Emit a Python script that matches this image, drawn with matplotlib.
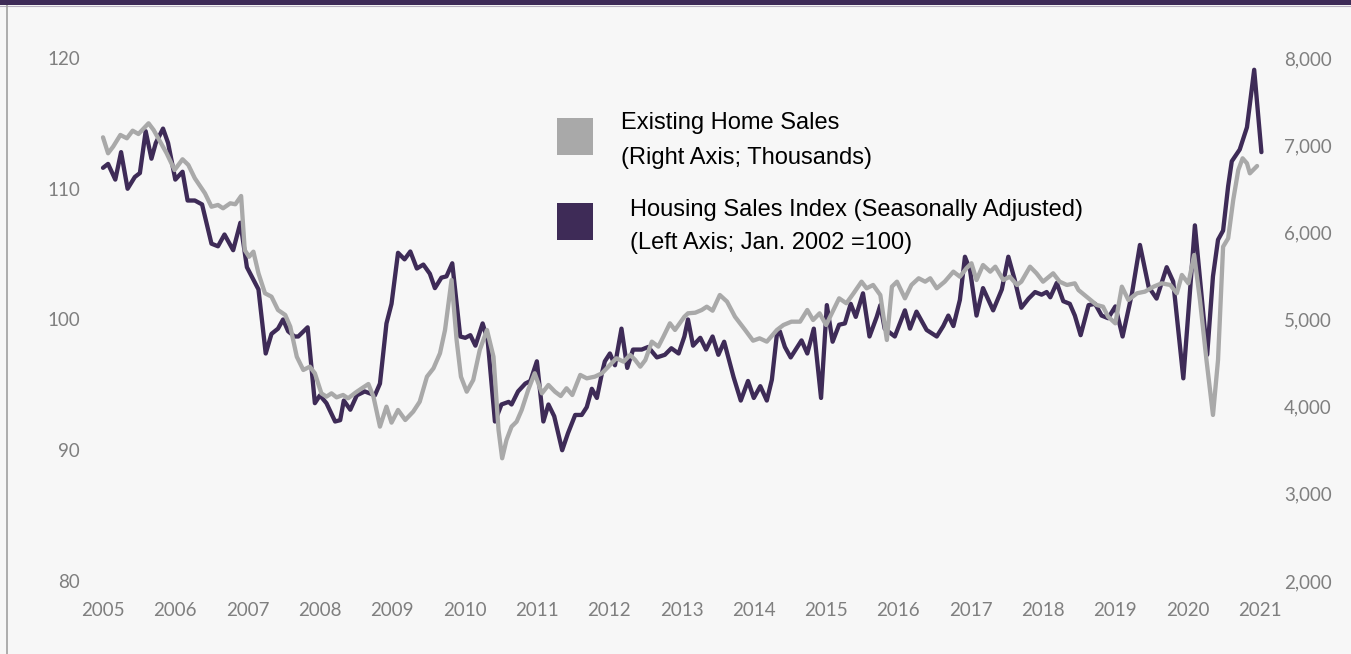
import matplotlib
matplotlib.use('Agg')
import matplotlib.pyplot as plt
import matplotlib.patches as patches
from matplotlib.lines import Line2D
from matplotlib.ticker import FuncFormatter

## Housing Sales Index (left axis, Jan. 2002 = 100)
hsi_year = [2005.00, 2005.07, 2005.17, 2005.25, 2005.34, 2005.44, 2005.51, 2005.59, 2005.67, 2005.73,
            2005.83, 2005.90, 2006.00, 2006.10, 2006.17, 2006.27, 2006.37, 2006.50, 2006.59, 2006.68,
            2006.80, 2006.90, 2006.99, 2007.15, 2007.25, 2007.33, 2007.42, 2007.49, 2007.56, 2007.65,
            2007.70, 2007.83, 2007.93, 2008.00, 2008.09, 2008.21, 2008.28, 2008.33, 2008.42, 2008.51,
            2008.62, 2008.76, 2008.83, 2008.92, 2008.99, 2009.08, 2009.17, 2009.25, 2009.34, 2009.43,
            2009.52, 2009.59, 2009.68, 2009.75, 2009.83, 2009.94, 2010.01, 2010.08, 2010.15, 2010.25,
            2010.32, 2010.42, 2010.51, 2010.61, 2010.65, 2010.74, 2010.84, 2010.91, 2011.00, 2011.09,
            2011.16, 2011.24, 2011.35, 2011.43, 2011.53, 2011.62, 2011.69, 2011.76, 2011.83, 2011.90,
            2011.94, 2012.01, 2012.08, 2012.17, 2012.25, 2012.33, 2012.45, 2012.54, 2012.66, 2012.77,
            2012.86, 2012.96, 2013.04, 2013.09, 2013.16, 2013.26, 2013.34, 2013.43, 2013.51, 2013.59,
            2013.72, 2013.82, 2013.92, 2014.00, 2014.09, 2014.18, 2014.25, 2014.32, 2014.36, 2014.43,
            2014.51, 2014.59, 2014.66, 2014.74, 2014.83, 2014.93, 2015.01, 2015.09, 2015.18, 2015.26,
            2015.34, 2015.41, 2015.51, 2015.60, 2015.70, 2015.75, 2015.81, 2015.95, 2016.09, 2016.16,
            2016.25, 2016.39, 2016.53, 2016.62, 2016.69, 2016.76, 2016.85, 2016.92, 2016.99, 2017.08,
            2017.17, 2017.31, 2017.43, 2017.52, 2017.61, 2017.70, 2017.80, 2017.89, 2017.98, 2018.05,
            2018.10, 2018.19, 2018.28, 2018.37, 2018.44, 2018.52, 2018.63, 2018.72, 2018.81, 2018.90,
            2019.00, 2019.10, 2019.23, 2019.34, 2019.46, 2019.57, 2019.71, 2019.80, 2019.94, 2020.03,
            2020.10, 2020.19, 2020.27, 2020.35, 2020.42, 2020.49, 2020.56, 2020.61, 2020.72, 2020.82,
            2020.92, 2021.02]
hsi = [111.6, 111.9, 110.7, 112.8, 110.0, 110.9, 111.2, 114.4, 112.3, 113.5,
       114.6, 113.5, 110.7, 111.3, 109.1, 109.1, 108.8, 105.8, 105.6, 106.5,
       105.3, 107.4, 104.0, 102.3, 97.4, 98.9, 99.3, 100.0, 99.1, 98.7,
       98.7, 99.4, 93.6, 94.2, 93.6, 92.2, 92.3, 93.8, 93.1, 94.2,
       94.5, 94.2, 95.1, 99.7, 101.2, 105.1, 104.6, 105.2, 103.9, 104.2,
       103.5, 102.4, 103.2, 103.3, 104.3, 98.7, 98.6, 98.8, 98.0, 99.7,
       98.4, 92.2, 93.5, 93.7, 93.5, 94.5, 95.1, 95.3, 96.8, 92.2,
       93.5, 92.6, 90.0, 91.3, 92.7, 92.7, 93.3, 94.7, 94.0, 95.9,
       96.8, 97.4, 96.5, 99.3, 96.3, 97.7, 97.7, 97.9, 97.1, 97.3,
       97.8, 97.4, 98.7, 100.0, 98.0, 98.6, 97.7, 98.7, 97.3, 98.3,
       95.6, 93.8, 95.3, 94.0, 94.9, 93.8, 95.4, 98.9, 99.1, 97.9,
       97.1, 97.8, 98.4, 97.4, 99.3, 94.0, 101.1, 98.3, 99.6, 99.7,
       101.2, 100.2, 102.0, 98.7, 100.2, 101.1, 99.3, 98.7, 100.7, 99.3,
       100.6, 99.2, 98.7, 99.5, 100.3, 99.5, 101.5, 104.8, 103.8, 100.3,
       102.4, 100.7, 102.3, 104.8, 103.0, 100.9, 101.6, 102.1, 101.9, 102.1,
       101.7, 102.8, 101.4, 101.2, 100.3, 98.8, 101.1, 101.2, 100.3, 100.1,
       101.0, 98.7, 102.0, 105.7, 102.5, 101.6, 104.0, 102.9, 95.5, 102.0,
       107.2, 102.0, 97.3, 103.3, 106.1, 106.8, 110.2, 112.1, 113.0, 114.7,
       119.1, 112.8]

## Existing Home Sales (right axis, thousands)
ehs_year = [2005.00, 2005.07, 2005.14, 2005.24, 2005.33, 2005.41, 2005.49, 2005.63, 2005.70, 2005.79,
            2005.88, 2005.99, 2006.10, 2006.18, 2006.27, 2006.41, 2006.50, 2006.59, 2006.66, 2006.76,
            2006.83, 2006.91, 2006.96, 2007.02, 2007.08, 2007.15, 2007.24, 2007.33, 2007.42, 2007.52,
            2007.59, 2007.68, 2007.77, 2007.86, 2007.93, 2008.02, 2008.09, 2008.16, 2008.23, 2008.32,
            2008.39, 2008.49, 2008.58, 2008.67, 2008.74, 2008.83, 2008.92, 2008.99, 2009.08, 2009.18,
            2009.29, 2009.38, 2009.48, 2009.57, 2009.66, 2009.73, 2009.82, 2009.89, 2009.95, 2010.03,
            2010.12, 2010.21, 2010.31, 2010.40, 2010.47, 2010.52, 2010.58, 2010.65, 2010.72, 2010.79,
            2010.88, 2010.97, 2011.07, 2011.16, 2011.25, 2011.33, 2011.41, 2011.49, 2011.60, 2011.69,
            2011.80, 2011.90, 2012.01, 2012.10, 2012.20, 2012.29, 2012.36, 2012.43, 2012.50, 2012.59,
            2012.68, 2012.75, 2012.84, 2012.91, 2013.04, 2013.09, 2013.19, 2013.28, 2013.35, 2013.43,
            2013.53, 2013.63, 2013.74, 2013.88, 2013.99, 2014.08, 2014.18, 2014.32, 2014.41, 2014.52,
            2014.64, 2014.74, 2014.82, 2014.91, 2015.00, 2015.09, 2015.18, 2015.28, 2015.38, 2015.49,
            2015.56, 2015.65, 2015.75, 2015.84, 2015.91, 2015.98, 2016.09, 2016.18, 2016.28, 2016.37,
            2016.44, 2016.53, 2016.64, 2016.76, 2016.85, 2016.94, 2017.01, 2017.08, 2017.17, 2017.27,
            2017.34, 2017.45, 2017.54, 2017.64, 2017.70, 2017.82, 2017.91, 2018.00, 2018.14, 2018.23,
            2018.33, 2018.44, 2018.49, 2018.63, 2018.74, 2018.83, 2018.90, 2019.00, 2019.09, 2019.18,
            2019.30, 2019.41, 2019.53, 2019.64, 2019.76, 2019.85, 2019.92, 2020.01, 2020.09, 2020.17,
            2020.26, 2020.35, 2020.42, 2020.49, 2020.56, 2020.63, 2020.70, 2020.76, 2020.82, 2020.86,
            2020.96]
ehs = [7090, 6907, 6983, 7117, 7079, 7166, 7128, 7251, 7174, 7040,
       6907, 6715, 6838, 6773, 6620, 6448, 6294, 6314, 6276, 6333,
       6322, 6417, 5797, 5720, 5778, 5530, 5301, 5262, 5109, 5052,
       4918, 4573, 4421, 4459, 4383, 4153, 4115, 4153, 4107, 4134,
       4096, 4160, 4211, 4260, 4115, 3771, 4000, 3817, 3962, 3847,
       3943, 4057, 4344, 4440, 4612, 4880, 5453, 4765, 4344, 4172,
       4306, 4650, 4880, 4573, 3732, 3408, 3618, 3771, 3828, 3962,
       4192, 4383, 4153, 4249, 4172, 4122, 4211, 4134, 4364, 4325,
       4344, 4383, 4478, 4555, 4516, 4593, 4535, 4459, 4535, 4746,
       4689, 4803, 4956, 4880, 5032, 5071, 5078, 5109, 5147, 5101,
       5281, 5205, 5032, 4880, 4757, 4784, 4746, 4880, 4937, 4975,
       4975, 5109, 4994, 5071, 4937, 5090, 5243, 5186, 5301, 5434,
       5358, 5396, 5280, 4765, 5377, 5434, 5243, 5396, 5473, 5434,
       5473, 5358, 5434, 5549, 5491, 5587, 5645, 5453, 5625, 5549,
       5606, 5453, 5491, 5396, 5434, 5606, 5530, 5434, 5530, 5434,
       5396, 5415, 5338, 5243, 5167, 5147, 5032, 4956, 5377, 5224,
       5301, 5320, 5377, 5415, 5396, 5301, 5511, 5415, 5740, 5224,
       4536, 3905, 4536, 5835, 5931, 6371, 6715, 6849, 6792, 6677,
       6761]

years = list(range(2005, 2022))
left_ticks = [80, 90, 100, 110, 120]
right_ticks = [2000, 3000, 4000, 5000, 6000, 7000, 8000]

purple = '#3e2b57'
grey = '#a9a9a9'
tick_col = '#7f7f7f'
bg = '#f7f7f7'

W, H = 1351, 654
fig = plt.figure(figsize=(W / 100, H / 100), dpi=100, facecolor=bg)

# frame decorations: purple bar on top, grey rule on the left
fig.patches.append(patches.Rectangle((0, 1 - 5 / H), 1, 5 / H, transform=fig.transFigure,
                                     facecolor=purple, edgecolor='none', zorder=5))
fig.lines.append(Line2D([0, 1], [1 - 5.5 / H, 1 - 5.5 / H], transform=fig.transFigure,
                        color='#b8b0c0', lw=0.8))
fig.lines.append(Line2D([6.5 / W, 6.5 / W], [0, 1 - 5 / H], transform=fig.transFigure,
                        color='#a0a0a0', lw=1.2))

ax = fig.add_axes([85 / W, 73 / H, 1195 / W, 523 / H])
ax.set_facecolor('none')
ax.plot(hsi_year, hsi, color=purple, lw=3.1, solid_joinstyle='round', solid_capstyle='round')
ax.set_ylim(80, 120)
ax.set_xlim(2004.751, 2021.277)
ax.set_yticks(left_ticks)
ax.set_xticks(years)
ax.set_xticklabels([str(y) for y in years])

ax2 = ax.twinx()
ax2.plot(ehs_year, ehs, color=grey, lw=3.1, solid_joinstyle='round', solid_capstyle='round')
ax2.set_ylim(2000, 8000)
ax2.set_yticks(right_ticks)
ax2.yaxis.set_major_formatter(FuncFormatter(lambda v, p: f'{int(v):,}'))

for a in (ax, ax2):
    for s in a.spines.values():
        s.set_visible(False)
ax.tick_params(axis='both', length=0, colors=tick_col, labelsize=13.5)
ax.tick_params(axis='x', pad=15)
ax.tick_params(axis='y', pad=3.6)
ax2.tick_params(axis='y', length=0, colors=tick_col, labelsize=13.5, pad=3)
for lab in ax.get_xticklabels() + ax.get_yticklabels() + ax2.get_yticklabels():
    lab.set_fontfamily('Lato')

# legend drawn by hand, like the original
fig.patches.append(patches.Rectangle((557 / W, 1 - 155 / H), 36 / W, 37 / H, transform=fig.transFigure,
                                     facecolor=grey, edgecolor='none'))
fig.patches.append(patches.Rectangle((557 / W, 1 - 240 / H), 36 / W, 37 / H, transform=fig.transFigure,
                                     facecolor=purple, edgecolor='none'))
leg_font = dict(fontsize=17, family='Liberation Sans', color='black', va='center', ha='left')
fig.text(621 / W, 1 - 123 / H, 'Existing Home Sales', **leg_font)
fig.text(621 / W, 1 - 158 / H, '(Right Axis; Thousands)', **leg_font)
fig.text(630 / W, 1 - 210 / H, 'Housing Sales Index (Seasonally Adjusted)', **leg_font)
fig.text(630 / W, 1 - 243 / H, '(Left Axis; Jan. 2002 =100)', **leg_font)

fig.savefig('out.png', dpi=100, facecolor=bg)
